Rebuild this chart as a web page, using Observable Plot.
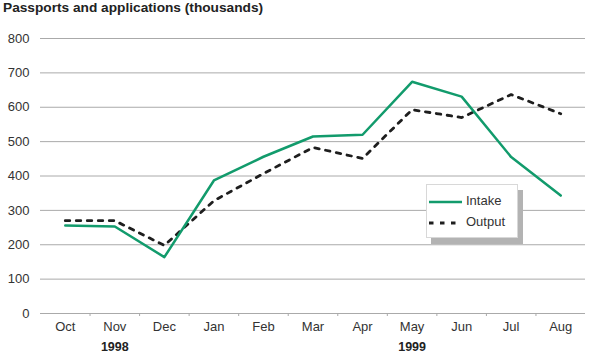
<!DOCTYPE html>
<html>
<head>
<meta charset="utf-8">
<script src="https://cdn.jsdelivr.net/npm/d3@7"></script>
<script src="https://cdn.jsdelivr.net/npm/@observablehq/plot@0.6"></script>
<style>
  html, body { margin: 0; padding: 0; background: #fff; }
  body { width: 601px; height: 360px; overflow: hidden; font-family: "Liberation Sans", Arial, sans-serif; }
  #wrap { position: relative; width: 601px; height: 360px; }
  #title { position: absolute; left: 3px; top: 0; height: 16px; line-height: 16px; font-size: 13.7px; font-weight: bold; color: #222; white-space: nowrap; }
  #chart { position: absolute; left: 0; top: 16px; }
  #legend { position: absolute; left: 426px; top: 184px; width: 90px; height: 52px; background: #fff; border: 1px solid #d8d8d8; box-shadow: 5px 6px 0 #b3b3b3; font-size: 13px; color: #333; }
  .item { position: absolute; left: 2px; height: 16px; line-height: 16px; white-space: nowrap; }
  .item svg { vertical-align: middle; margin-right: 4px; }
</style>
</head>
<body>
<div id="wrap">
  <div id="title"></div>
  <div id="chart"></div>
  <div id="legend"></div>
</div>
<script>
const title = "Passports and applications (thousands)";
const months = ["Oct","Nov","Dec","Jan","Feb","Mar","Apr","May","Jun","Jul","Aug"];
const intake = [256, 253, 164, 387, 456, 515, 520, 674, 631, 455, 343];
const output = [270, 270, 198, 328, 407, 483, 451, 593, 570, 637, 581];
const yTicks = [0, 100, 200, 300, 400, 500, 600, 700, 800];
const yearLabels = ["1998", "1999"];
const yearMonths = ["Nov", "May"];
const seriesNames = ["Intake", "Output"];
const colors = {Intake: "#129b6c", Output: "#1e1e1e"};
const dashes = "4.5,6.5";

document.getElementById("title").textContent = title;

const rows = [];
months.forEach((m, i) => {
  rows.push({i, month: m, series: "Intake", value: intake[i]});
  rows.push({i, month: m, series: "Output", value: output[i]});
});
const idx = months.map((m, i) => i);
const bounds = idx.slice(0, -1).map(i => i + 0.5);
const years = yearLabels.map((y, k) => ({label: y, i: months.indexOf(yearMonths[k])}));

const chart = Plot.plot({
  width: 601,
  height: 344,
  marginTop: 22,
  marginLeft: 40,
  marginRight: 16,
  marginBottom: 47,
  style: {fontFamily: "Liberation Sans, Arial, sans-serif", fontSize: "12px", color: "#333", background: "#fff"},
  x: {domain: [-0.5, months.length - 0.5]},
  y: {domain: [0, 800]},
  marks: [
    Plot.ruleY(yTicks, {stroke: "#aaa", strokeWidth: 1}),
    Plot.axisY({ticks: yTicks, tickSize: 0, tickPadding: 11, fontSize: 13, label: null, tickFormat: d => d}),
    Plot.axisX({ticks: bounds, tickSize: 3, tickFormat: () => "", stroke: "#aaa", label: null}),
    Plot.axisX({ticks: idx, tickSize: 0, tickPadding: 8, fontSize: 13, tickFormat: i => months[i], label: null}),
    Plot.text(years, {x: "i", text: "label", frameAnchor: "bottom", dy: 37, fontWeight: "bold", fontSize: 12.5, fill: "#222"}),
    Plot.line(rows.filter(d => d.series === "Output"), {x: "i", y: "value", stroke: colors.Output, strokeWidth: 2.8, strokeDasharray: dashes}),
    Plot.line(rows.filter(d => d.series === "Intake"), {x: "i", y: "value", stroke: colors.Intake, strokeWidth: 2.5})
  ]
});
document.getElementById("chart").appendChild(chart);

const legend = document.getElementById("legend");
seriesNames.forEach((name, k) => {
  const div = document.createElement("div");
  div.className = "item";
  div.style.top = (8 + k * 21) + "px";
  const dash = name === "Output" ? `stroke-dasharray="${dashes}" stroke-width="2.8"` : 'stroke-width="2.5"';
  div.innerHTML = `<svg width="33" height="6"><line x1="0" x2="33" y1="3" y2="3" stroke="${colors[name]}" ${dash}/></svg>${name}`;
  legend.appendChild(div);
});
</script>
</body>
</html>
